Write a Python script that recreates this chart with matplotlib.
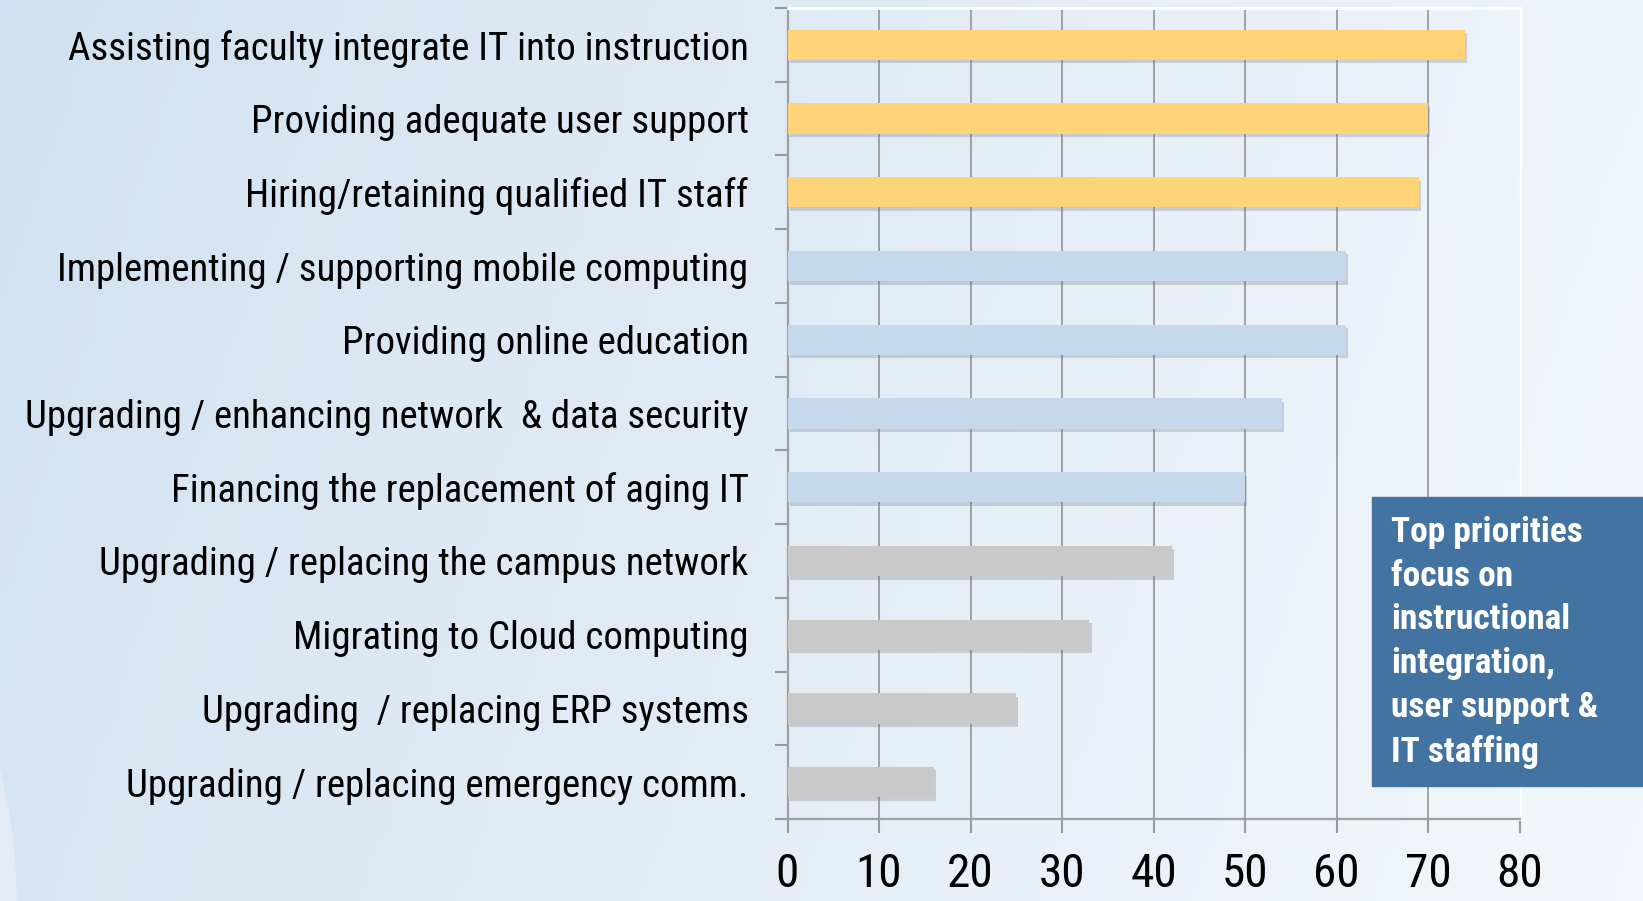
import numpy as np
import matplotlib.pyplot as plt
import matplotlib.patheffects as pe
from matplotlib import font_manager as fm
from matplotlib.patches import Circle, Rectangle

# Data
priorities = [
    'Assisting faculty integrate IT into instruction',
    'Providing adequate user support',
    'Hiring/retaining qualified IT staff',
    'Implementing / supporting mobile computing',
    'Providing online education',
    'Upgrading / enhancing network  & data security',
    'Financing the replacement of aging IT',
    'Upgrading / replacing the campus network',
    'Migrating to Cloud computing',
    'Upgrading  / replacing ERP systems',
    'Upgrading / replacing emergency comm.',
]
percent = [74, 70, 69, 61, 61, 54, 50, 42, 33, 25, 16]
tier = ['top', 'top', 'top', 'mid', 'mid', 'mid', 'mid', 'low', 'low', 'low', 'low']
x_ticks = [0, 10, 20, 30, 40, 50, 60, 70, 80]
note = 'Top priorities\nfocus on\ninstructional\nintegration,\nuser support &\nIT staffing'

tier_colors = {'top': '#ffd479', 'mid': '#c5d8ec', 'low': '#c9c9c9'}

# pick a narrow sans (Arial Narrow look-alike) that is installed
have = {f.name for f in fm.fontManager.ttflist}
narrow = [n for n in ['Liberation Sans Narrow', 'Arial Narrow', 'Roboto Condensed',
                      'Archivo Narrow', 'PT Sans Narrow'] if n in have][:1] + ['DejaVu Sans']

fig = plt.figure(figsize=(16.43, 9.01), dpi=100)

# background gradient
bg = fig.add_axes([0, 0, 1, 1], zorder=-10)
gx = np.linspace(0, 1, 256)
gy = np.linspace(0, 1, 64)[:, None]
left = np.array([0.824, 0.886, 0.945])
right = np.array([0.955, 0.968, 0.982])
t = np.clip(gx[None, :] * 0.85 + (1 - gy) * 0.15, 0, 1)
img = left[None, None, :] * (1 - t[..., None]) + right[None, None, :] * t[..., None]
bg.imshow(img, aspect='auto', extent=[0, 1643, 0, 901], origin='upper')
bg.add_patch(Circle((-500, 900), 516, transform=bg.transData, color='#e4ebf4', zorder=2))
bg.set_xlim(0, 1643)
bg.set_ylim(901, 0)
bg.axis('off')

ax = fig.add_axes([787.5 / 1643, 1 - 819 / 901, (1519.5 - 787.5) / 1643, (819 - 8) / 901])
ax.patch.set_alpha(0)

y = np.arange(len(priorities))
bars = ax.barh(y, percent, height=0.41, color=[tier_colors[k] for k in tier], zorder=3)
for b in bars:
    b.set_path_effects([pe.SimplePatchShadow(offset=(1.5, -2.5), shadow_rgbFace='#6d7480', alpha=0.28),
                        pe.Normal()])

ax.set_xlim(0, 80)
ax.set_ylim(len(priorities) - 0.5, -0.5)
ax.set_xticks(x_ticks)
ax.set_xticklabels([str(v) for v in x_ticks], fontsize=34, family=narrow)
ax.set_yticks(y)
ax.set_yticklabels(priorities, fontsize=28, family=narrow)
ax.set_yticks(np.arange(-0.5, len(priorities)), minor=True)

ax.tick_params(axis='y', which='major', length=0, pad=28)
ax.tick_params(axis='y', which='minor', length=9.5, width=1.5, color='#9a9a9a', direction='out')
ax.tick_params(axis='x', length=10, width=1.5, color='#9a9a9a', direction='out', pad=14)

ax.grid(axis='x', color='#8c8c8c', linewidth=1.1, zorder=1)
ax.set_axisbelow(True)
for s in ['left', 'bottom']:
    ax.spines[s].set_color('#a0a0a0')
    ax.spines[s].set_linewidth(1.6)
for s in ['top', 'right']:
    ax.spines[s].set_color('#ffffff')
    ax.spines[s].set_linewidth(2)

# callout box
fig.patches.append(Rectangle((1372 / 1643, 1 - 786 / 901), (1643 - 1372) / 1643, (786 - 497) / 901,
                             transform=fig.transFigure, color='#4373a0', zorder=5))
fig.text(1391 / 1643, 1 - 516 / 901, note, color='white', fontsize=25.5, fontweight='bold',
         family=narrow, va='top', ha='left', linespacing=1.41, zorder=6)

fig.savefig('out.png', dpi=100)
